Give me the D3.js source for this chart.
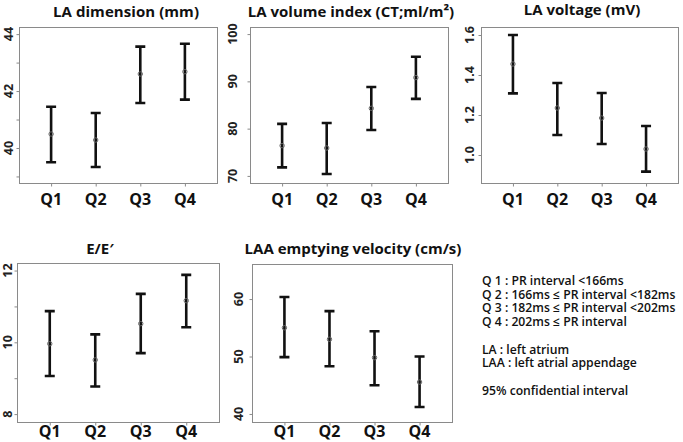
<!DOCTYPE html>
<html>
<head>
<meta charset="utf-8">
<script src="https://cdn.jsdelivr.net/npm/d3@7"></script>
<style>
  html, body { margin: 0; padding: 0; background: #fff; }
  svg { display: block; font-family: "Open Sans", "Noto Sans", sans-serif; }
  .frame { fill: none; stroke: #8a8a8a; stroke-width: 1; }
  .tick line { stroke: #8a8a8a; }
  .ylab { font-size: 12.5px; font-weight: 700; fill: #222; }
  .xlab { font-size: 16px; font-weight: 700; fill: #111; }
  .title { font-size: 15px; font-weight: 700; fill: #111; }
  .ci { stroke: #111; stroke-width: 2.6; fill: none; }
  .mean { fill: none; stroke: #666; stroke-width: 1; }
  .note { font-size: 12.2px; font-weight: 600; fill: #111; }
</style>
</head>
<body>
<svg id="chart" width="683" height="442"></svg>
<script>
// --- data ---
var quartiles = ["Q1", "Q2", "Q3", "Q4"];

var laDimMean = [40.49, 40.28, 42.60, 42.68];
var laDimLow  = [39.50, 39.33, 41.58, 41.70];
var laDimHigh = [41.45, 41.23, 43.56, 43.66];
var laDimTicks = [39, 40, 41, 42, 43, 44];
var laDimLabels = [40, 42, 44];

var laviMean = [76.4, 75.9, 84.3, 90.8];
var laviLow  = [71.8, 70.4, 79.7, 86.3];
var laviHigh = [81.0, 81.2, 88.8, 95.2];
var laviTicks = [70, 80, 90, 100];

var laVoltMean = [1.455, 1.235, 1.185, 1.030];
var laVoltLow  = [1.308, 1.100, 1.055, 0.917];
var laVoltHigh = [1.600, 1.360, 1.310, 1.145];
var laVoltTicks = [1.0, 1.2, 1.4, 1.6];

var eeMean = [9.96, 9.51, 10.52, 11.16];
var eeLow  = [9.06, 8.77, 9.70, 10.42];
var eeHigh = [10.87, 10.22, 11.35, 11.88];
var eeTicks = [8, 9, 10, 11, 12];
var eeLabels = [8, 10, 12];

var laaMean = [55.0, 53.0, 49.8, 45.55];
var laaLow  = [49.9, 48.3, 45.0, 41.2];
var laaHigh = [60.35, 57.9, 54.4, 50.0];
var laaTicks = [40, 50, 60];

var notes = [
  "Q 1 : PR interval <166ms",
  "Q 2 : 166ms \u2264 PR interval <182ms",
  "Q 3 : 182ms \u2264 PR interval <202ms",
  "Q 4 : 202ms \u2264 PR interval",
  "",
  "LA : left atrium",
  "LAA : left atrial appendage",
  "",
  "95% confidential interval"
];

// --- layout ---
var panels = [
  { title: "LA dimension (mm)", mean: laDimMean, low: laDimLow, high: laDimHigh,
    ticks: laDimTicks, labels: laDimLabels, fmt: d3.format("d"),
    box: [19, 217, 27, 183], domain: [38.77, 44.25], labX: 9, titleX: 126, titleY: 17, titleW: 146 },
  { title: "LA volume index (CT;ml/m\u00b2)", mean: laviMean, low: laviLow, high: laviHigh,
    ticks: laviTicks, labels: laviTicks, fmt: d3.format("d"),
    box: [250, 448, 27, 183], domain: [68.5, 101.5], labX: 233, titleX: 351, titleY: 17 },
  { title: "LA voltage (mV)", mean: laVoltMean, low: laVoltLow, high: laVoltHigh,
    ticks: laVoltTicks, labels: laVoltTicks, fmt: d3.format(".1f"),
    box: [481, 678, 27, 183], domain: [0.86, 1.64], labX: 470, titleX: 582, titleY: 15 },
  { title: "E/E\u2032", mean: eeMean, low: eeLow, high: eeHigh,
    ticks: eeTicks, labels: eeLabels, fmt: d3.format("d"),
    box: [17, 219, 263, 422], domain: [7.78, 12.21], labX: 8, titleX: 100, titleY: 254 },
  { title: "LAA emptying velocity (cm/s)", mean: laaMean, low: laaLow, high: laaHigh,
    ticks: laaTicks, labels: laaTicks, fmt: d3.format("d"),
    box: [252, 452, 264, 422], domain: [38.6, 66.1], labX: 239, titleX: 353, titleY: 254 }
];

var svg = d3.select("#chart");

panels.forEach(function (p) {
  var x0 = p.box[0], x1 = p.box[1], y0 = p.box[2], y1 = p.box[3];
  var x = d3.scalePoint().domain(quartiles).range([x0, x1]).padding(0.72);
  var y = d3.scaleLinear().domain(p.domain).range([y1, y0]);
  var g = svg.append("g");

  g.append("rect").attr("class", "frame")
    .attr("x", x0 + 0.5).attr("y", y0 + 0.5)
    .attr("width", x1 - x0).attr("height", y1 - y0);

  // y axis: ticks via d3, labels rotated like R's default
  var ya = g.append("g").attr("transform", "translate(" + (x0 + 0.5) + ",0)")
    .call(d3.axisLeft(y).tickValues(p.ticks).tickSize(3).tickFormat(""));
  ya.select(".domain").remove();
  g.selectAll(".ylab").data(p.labels).enter().append("text")
    .attr("class", "ylab")
    .attr("transform", function (d) { return "translate(" + p.labX + "," + y(d) + ") rotate(-90)"; })
    .attr("text-anchor", "middle").attr("dy", "0.35em")
    .text(p.fmt);

  // x axis
  var xa = g.append("g").attr("transform", "translate(0," + (y1 + 0.5) + ")")
    .call(d3.axisBottom(x).tickSize(3).tickFormat(""));
  xa.select(".domain").remove();
  g.selectAll(".xlab").data(quartiles).enter().append("text")
    .attr("class", "xlab")
    .attr("x", function (d) { return x(d); })
    .attr("y", Math.min(y1 + 22, 437))
    .attr("text-anchor", "middle")
    .text(function (d) { return d; });

  var t = g.append("text").attr("class", "title")
    .attr("x", p.titleX).attr("y", p.titleY)
    .attr("text-anchor", "middle").text(p.title);
  if (p.titleW) t.attr("textLength", p.titleW).attr("lengthAdjust", "spacing");

  // error bars
  var cap = 5;
  quartiles.forEach(function (q, i) {
    var cx = x(q);
    g.append("path").attr("class", "ci")
      .attr("d", "M" + (cx - cap) + "," + y(p.high[i]) + "H" + (cx + cap) +
                 "M" + cx + "," + y(p.high[i]) + "V" + y(p.low[i]) +
                 "M" + (cx - cap) + "," + y(p.low[i]) + "H" + (cx + cap));
    g.append("circle").attr("class", "mean")
      .attr("cx", cx).attr("cy", y(p.mean[i])).attr("r", 2.2);
  });
});

// legend notes
svg.append("g").selectAll("text").data(notes).enter().append("text")
  .attr("class", "note")
  .attr("x", 482)
  .attr("y", function (d, i) { return 285 + i * 13.7; })
  .text(function (d) { return d; });
</script>
</body>
</html>
